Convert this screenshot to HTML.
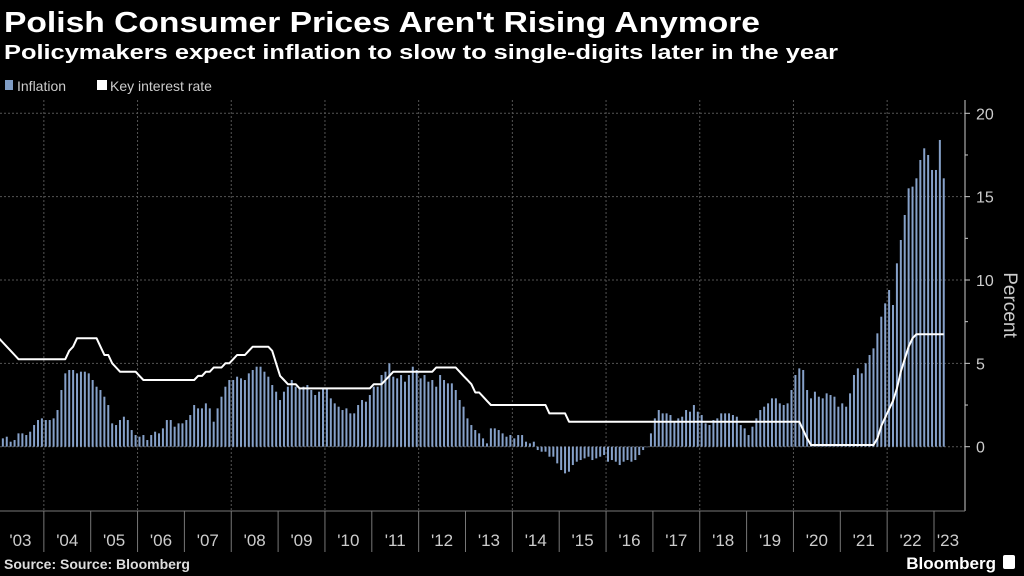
<!DOCTYPE html>
<html><head><meta charset="utf-8"><style>
html,body{margin:0;padding:0;background:#000;}
body{width:1024px;height:576px;overflow:hidden;font-family:"Liberation Sans","DejaVu Sans",sans-serif;}
svg{display:block}
</style></head><body>
<svg id="chart" width="1024" height="576" xmlns="http://www.w3.org/2000/svg">
<text x="4" y="32" fill="#fff" font-size="29" font-weight="bold" textLength="756" lengthAdjust="spacingAndGlyphs">Polish Consumer Prices Aren't Rising Anymore</text>
<text x="4" y="59" fill="#fff" font-size="20" font-weight="bold" textLength="834" lengthAdjust="spacingAndGlyphs">Policymakers expect inflation to slow to single-digits later in the year</text>
<g>
<rect x="5" y="80" width="8" height="10" fill="#7f9cc4"/>
<text x="17" y="91" fill="#ccc" font-size="14">Inflation</text>
<rect x="97" y="80" width="10" height="10" fill="#fff"/>
<text x="110" y="91" fill="#ccc" font-size="14">Key interest rate</text>
</g>
<g id="grid"></g><g id="bars"></g><g id="line"></g><g id="axes"></g>
<text x="4" y="569" fill="#ddd" font-size="14" font-weight="bold">Source: Source: Bloomberg</text>
<text x="996" y="569" fill="#fff" font-size="17" font-weight="bold" text-anchor="end">Bloomberg</text>
<rect x="1003" y="555" width="12" height="14" rx="2" fill="#fff"/>
</svg>
<script>
const years = ["'03","'04","'05","'06","'07","'08","'09","'10","'11","'12","'13","'14","'15","'16","'17","'18","'19","'20","'21","'22","'23"];
const yTicks = [0,5,10,15,20];
const inflation = [
0.5,0.5,0.6,0.3,0.4,0.8,0.8,0.7,0.9,1.3,1.6,1.7,
1.6,1.6,1.7,2.2,3.4,4.4,4.6,4.6,4.4,4.5,4.5,4.4,
4.0,3.6,3.4,3.0,2.5,1.4,1.3,1.6,1.8,1.6,1.0,0.7,
0.6,0.7,0.4,0.7,0.9,0.8,1.1,1.6,1.6,1.2,1.4,1.4,
1.6,1.9,2.5,2.3,2.3,2.6,2.3,1.5,2.3,3.0,3.6,4.0,
4.0,4.2,4.1,4.0,4.4,4.6,4.8,4.8,4.5,4.2,3.7,3.3,
2.8,3.3,3.6,4.0,3.6,3.5,3.6,3.7,3.4,3.1,3.3,3.5,
3.5,2.9,2.6,2.4,2.2,2.3,2.0,2.0,2.5,2.8,2.7,3.1,
3.6,3.6,4.3,4.5,5.0,4.2,4.1,4.3,3.9,4.3,4.8,4.6,
4.1,4.3,3.9,4.0,3.6,4.3,4.0,3.8,3.8,3.4,2.8,2.4,
1.7,1.3,1.0,0.8,0.5,0.2,1.1,1.1,1.0,0.8,0.6,0.7,
0.5,0.7,0.7,0.3,0.2,0.3,-0.2,-0.3,-0.3,-0.6,-0.6,-1.0,
-1.4,-1.6,-1.5,-1.1,-0.9,-0.8,-0.7,-0.6,-0.8,-0.7,-0.6,-0.5,
-0.9,-0.8,-0.9,-1.1,-0.9,-0.8,-0.9,-0.8,-0.5,-0.2,0.0,0.8,
1.7,2.2,2.0,2.0,1.9,1.5,1.7,1.8,2.2,2.1,2.5,2.1,
1.9,1.4,1.3,1.6,1.7,2.0,2.0,2.0,1.9,1.8,1.3,1.1,
0.7,1.2,1.7,2.2,2.4,2.6,2.9,2.9,2.6,2.5,2.6,3.4,
4.3,4.7,4.6,3.4,2.9,3.3,3.0,2.9,3.2,3.1,3.0,2.4,
2.6,2.4,3.2,4.3,4.7,4.4,5.0,5.5,5.9,6.8,7.8,8.6,
9.4,8.5,11.0,12.4,13.9,15.5,15.6,16.1,17.2,17.9,17.5,16.6,
16.6,18.4,16.1];
const rate = [
6.5,6.25,6.0,5.75,5.5,5.25,5.25,5.25,5.25,5.25,5.25,5.25,
5.25,5.25,5.25,5.25,5.25,5.25,5.75,6.0,6.5,6.5,6.5,6.5,
6.5,6.5,6.0,5.5,5.5,5.0,4.75,4.5,4.5,4.5,4.5,4.5,
4.25,4.0,4.0,4.0,4.0,4.0,4.0,4.0,4.0,4.0,4.0,4.0,
4.0,4.0,4.0,4.25,4.25,4.5,4.5,4.75,4.75,4.75,5.0,5.0,
5.25,5.5,5.5,5.5,5.75,6.0,6.0,6.0,6.0,6.0,5.75,5.0,
4.25,4.0,3.75,3.75,3.75,3.5,3.5,3.5,3.5,3.5,3.5,3.5,
3.5,3.5,3.5,3.5,3.5,3.5,3.5,3.5,3.5,3.5,3.5,3.5,
3.75,3.75,3.75,4.0,4.25,4.5,4.5,4.5,4.5,4.5,4.5,4.5,
4.5,4.5,4.5,4.5,4.75,4.75,4.75,4.75,4.75,4.75,4.5,4.25,
4.0,3.75,3.25,3.25,3.0,2.75,2.5,2.5,2.5,2.5,2.5,2.5,
2.5,2.5,2.5,2.5,2.5,2.5,2.5,2.5,2.5,2.0,2.0,2.0,
2.0,2.0,1.5,1.5,1.5,1.5,1.5,1.5,1.5,1.5,1.5,1.5,
1.5,1.5,1.5,1.5,1.5,1.5,1.5,1.5,1.5,1.5,1.5,1.5,
1.5,1.5,1.5,1.5,1.5,1.5,1.5,1.5,1.5,1.5,1.5,1.5,
1.5,1.5,1.5,1.5,1.5,1.5,1.5,1.5,1.5,1.5,1.5,1.5,
1.5,1.5,1.5,1.5,1.5,1.5,1.5,1.5,1.5,1.5,1.5,1.5,
1.5,1.5,1.0,0.5,0.1,0.1,0.1,0.1,0.1,0.1,0.1,0.1,
0.1,0.1,0.1,0.1,0.1,0.1,0.1,0.1,0.1,0.5,1.25,1.75,
2.25,2.75,3.5,4.5,5.25,6.0,6.5,6.75,6.75,6.75,6.75,6.75,
6.75,6.75,6.75];

const NS="http://www.w3.org/2000/svg";
const X0=-3, YEARW=46.85, MW=YEARW/12, AXISX=965, PTOP=100, PBOT=511;
const xm = i => X0 + (i+0.5)*MW;
const xy = k => X0 + k*YEARW;
const y = v => 446.7 - v*16.67;
function mk(tag, attrs, parent){const e=document.createElementNS(NS,tag);for(const k in attrs)e.setAttribute(k,attrs[k]);parent.appendChild(e);return e;}
const grid=document.getElementById('grid'), bars=document.getElementById('bars'), line=document.getElementById('line'), axes=document.getElementById('axes');

yTicks.forEach(t=>{
  const g=mk('line',{x1:0,x2:AXISX,y1:y(t),y2:y(t),stroke:'#555','stroke-width':1,'stroke-dasharray':'2,2'},grid);
  
  
  const tk=mk('line',{x1:AXISX,x2:AXISX+5,y1:y(t),y2:y(t),stroke:'#ccc'},axes);
  
  
  const lb=mk('text',{x:AXISX+11,y:y(t)+6,fill:'#ccc','font-size':16},axes);
  lb.textContent=t;
  
  
});
for(let t=2.5;t<20;t+=5){
  const tk=mk('line',{x1:AXISX,x2:AXISX+3,y1:y(t),y2:y(t),stroke:'#ccc'},axes);
  
  
}
years.forEach((yr,k)=>{
  if(k%2===1 && k<years.length-1){
    const g=mk('line',{x1:xy(k),x2:xy(k),y1:PTOP,y2:PBOT,stroke:'#555','stroke-dasharray':'2,2'},grid);
    
    
  }
  if(k>0){
    const s=mk('line',{x1:xy(k),x2:xy(k),y1:PBOT,y2:552,stroke:'#777'},axes);
    
    
  }
  const cx = k<years.length-1 ? xy(k)+YEARW/2 : xy(k)+14;
  const lb=mk('text',{x:cx,y:546,fill:'#ccc','font-size':17,'text-anchor':'middle'},axes);
  lb.textContent=yr;
  
  
});
const ax=mk('line',{x1:AXISX,x2:AXISX,y1:PTOP,y2:PBOT,stroke:'#ccc'},axes);


const bx=mk('line',{x1:0,x2:AXISX,y1:PBOT,y2:PBOT,stroke:'#777'},axes);


const yt=mk('text',{x:1004,y:305,fill:'#ccc','font-size':19,'text-anchor':'middle',transform:'rotate(90 1004 305)'},axes);
yt.textContent='Percent';



inflation.forEach((v,i)=>{
  const y0=y(0), yv=y(v);
  const r=mk('rect',{x:xm(i)-1,y:Math.min(y0,yv),width:2,height:Math.max(0.5,Math.abs(yv-y0)),fill:'#86a1c9'},bars);
  
  
});
const pts=rate.map((v,i)=>xm(i).toFixed(1)+','+y(v).toFixed(1));
pts.unshift('0,'+y(rate[0]).toFixed(1));
const pl=mk('polyline',{points:pts.join(' '),fill:'none',stroke:'#fff','stroke-width':2,'stroke-linejoin':'round'},line);


</script>
</body></html>
